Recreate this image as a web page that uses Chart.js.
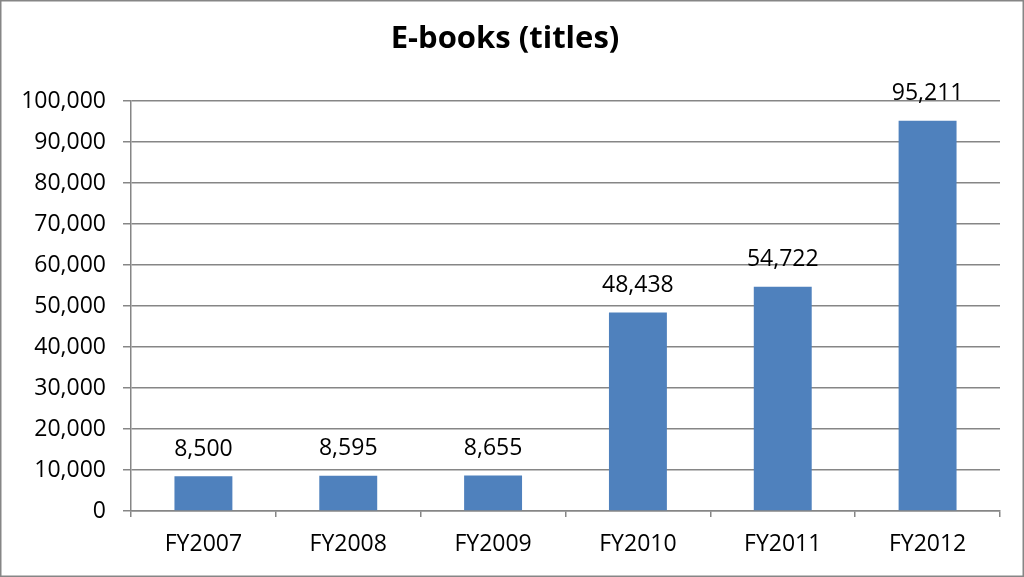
<!DOCTYPE html>
<html lang="en">
<head>
<meta charset="UTF-8">
<title>E-books (titles)</title>
<script src="https://cdn.jsdelivr.net/npm/chart.js"></script>
<style>
  html, body { margin: 0; padding: 0; background: #fff; }
  #wrap { width: 1024px; height: 577px; position: relative; }
</style>
</head>
<body>
<div id="wrap"><canvas id="ebooks"></canvas></div>
<script>
const years = ['FY2007', 'FY2008', 'FY2009', 'FY2010', 'FY2011', 'FY2012'];
const titles = [8500, 8595, 8655, 48438, 54722, 95211];
const chartTitle = 'E-books (titles)';

const FONT = "'Open Sans', 'Liberation Sans', sans-serif";
const GRID = '#868686';

// frame round the whole picture + title + value labels
const decor = {
  id: 'decor',
  beforeDraw(chart) {
    const c = chart.ctx;
    c.save();
    c.fillStyle = '#fff';
    c.fillRect(0, 0, chart.width, chart.height);
    c.strokeStyle = GRID;
    c.lineWidth = 1.5;
    c.strokeRect(0.75, 0.75, chart.width - 1.5, chart.height - 1.5);
    c.restore();
  },
  afterDatasetsDraw(chart) {
    const c = chart.ctx;
    c.save();
    c.fillStyle = '#000';
    c.font = 'bold 31px ' + FONT;
    c.textAlign = 'center';
    c.textBaseline = 'middle';
    c.fillText(chartTitle, 505, 39);
    c.font = '23px ' + FONT;
    chart.getDatasetMeta(0).data.forEach((bar, i) => {
      c.fillText(titles[i].toLocaleString('en-US'), bar.x, bar.y - 27);
    });
    c.restore();
  }
};

new Chart(document.getElementById('ebooks'), {
  type: 'bar',
  data: {
    labels: years,
    datasets: [{
      data: titles,
      backgroundColor: '#4F81BD',
      borderWidth: 0,
      barPercentage: 1,
      categoryPercentage: 0.4
    }]
  },
  options: {
    responsive: true,
    maintainAspectRatio: false,
    animation: false,
    layout: { padding: { top: 101, right: 24, bottom: 0, left: 0 } },
    plugins: {
      legend: { display: false },
      tooltip: { enabled: false },
      title: { display: false }
    },
    scales: {
      x: {
        afterFit(s) { s.height = 66; },
        border: { color: GRID, width: 1.5 },
        grid: {
          offset: true,
          drawOnChartArea: false,
          drawTicks: true,
          tickLength: 6,
          color: GRID,
          lineWidth: 1.5
        },
        ticks: { color: '#000', padding: 14, font: { family: FONT, size: 23 } }
      },
      y: {
        min: 0,
        max: 100000,
        afterFit(s) { s.width = 131; },
        border: { color: GRID, width: 1.5 },
        grid: { color: GRID, lineWidth: 1.5, tickLength: 8 },
        ticks: {
          stepSize: 10000,
          color: '#000',
          padding: 17,
          font: { family: FONT, size: 23 },
          callback: v => v.toLocaleString('en-US')
        }
      }
    }
  },
  plugins: [decor]
});
</script>
</body>
</html>
